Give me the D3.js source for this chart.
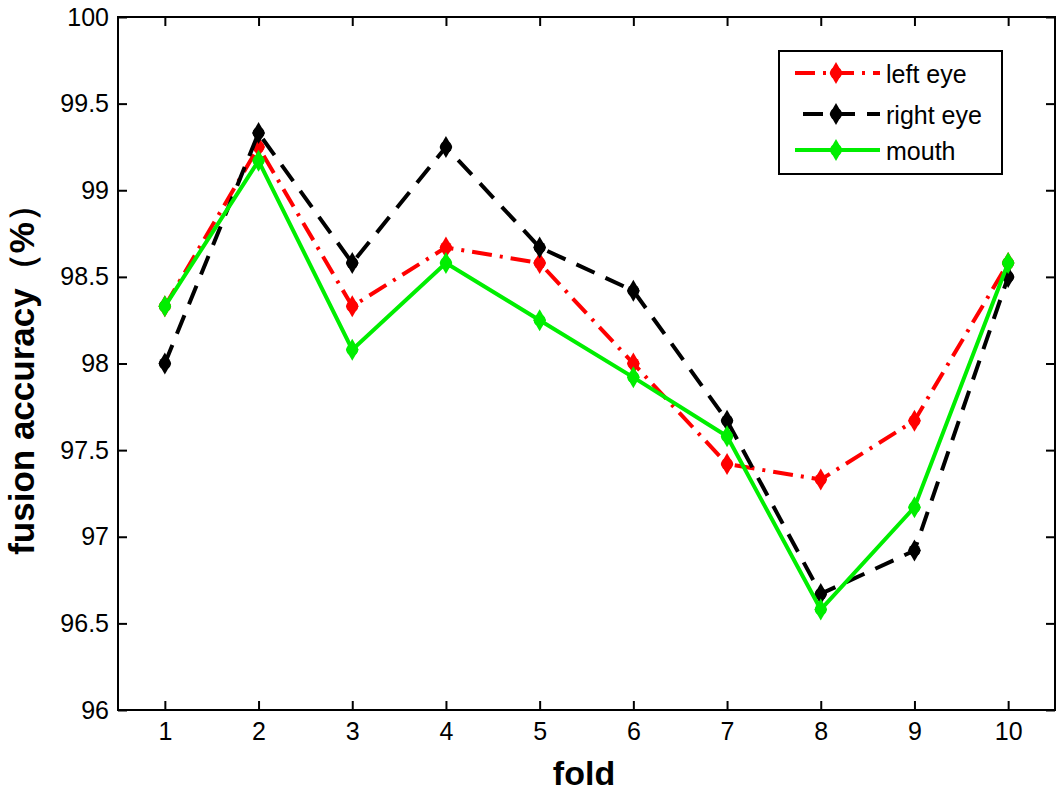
<!DOCTYPE html>
<html><head><meta charset="utf-8">
<script src="https://cdn.jsdelivr.net/npm/d3@7"></script>
<style>body{margin:0;background:#fff}svg{display:block}text{font-family:"Liberation Sans",Arial,sans-serif}</style>
</head><body><svg id="c" width="1063" height="794"></svg>
<script>
const folds = [1,2,3,4,5,6,7,8,9,10];
const leftEye  = [98.33,99.25,98.33,98.67,98.58,98.00,97.42,97.33,97.67,98.58];
const rightEye = [98.00,99.33,98.58,99.25,98.67,98.42,97.67,96.67,96.92,98.50];
const mouth    = [98.33,99.17,98.08,98.58,98.25,97.92,97.58,96.58,97.17,98.58];
const yTicks = [96,96.5,97,97.5,98,98.5,99,99.5,100];
const seriesNames = ["left eye","right eye","mouth"];

const svg = d3.select("#c");
const L=118,R=1055,T=17,B=710;
const x = d3.scaleLinear().domain([0.5,10.5]).range([L,R]);
const y = d3.scaleLinear().domain([96,100]).range([B,T]);

const series = [
  {name:seriesNames[0], vals:leftEye, color:"#ff0000", dash:"20,8,3,8"},
  {name:seriesNames[1], vals:rightEye, color:"#000000", dash:"20,12"},
  {name:seriesNames[2], vals:mouth, color:"#00ee00", dash:null}
];

// axes box
svg.append("rect").attr("x",L).attr("y",T).attr("width",R-L).attr("height",B-T)
  .attr("fill","none").attr("stroke","#000").attr("stroke-width",2);

const gx = svg.append("g").attr("transform",`translate(0,${B})`)
  .call(d3.axisBottom(x).tickValues(folds).tickSize(-9).tickPadding(12).tickFormat(d3.format("d")));
const gxt = svg.append("g").attr("transform",`translate(0,${T})`)
  .call(d3.axisTop(x).tickValues(folds).tickSize(-9).tickFormat(""));
const gy = svg.append("g").attr("transform",`translate(${L},0)`)
  .call(d3.axisLeft(y).tickValues(yTicks).tickSize(-9).tickPadding(9).tickFormat(d=>String(d)));
const gyr = svg.append("g").attr("transform",`translate(${R},0)`)
  .call(d3.axisRight(y).tickValues(yTicks).tickSize(-9).tickFormat(""));
[gx,gxt,gy,gyr].forEach(g=>{
  g.select(".domain").remove();
  g.selectAll(".tick line").attr("stroke","#000").attr("stroke-width",2);
  g.selectAll("text").attr("font-size",25).attr("fill","#000");
});

const line = d3.line().x((d,i)=>x(folds[i])).y(d=>y(d));
const sym = d3.symbol().type(d3.symbolDiamond).size(140);

series.forEach(s=>{
  svg.append("path").datum(s.vals).attr("d",line).attr("fill","none")
    .attr("stroke",s.color).attr("stroke-width",4)
    .attr("stroke-dasharray",s.dash);
  svg.append("g").selectAll("path").data(s.vals).join("path")
    .attr("transform",(d,i)=>`translate(${x(folds[i])},${y(d)})`)
    .attr("d",sym).attr("fill",s.color);
  svg.append("g").selectAll("circle").data(s.vals).join("circle")
    .attr("cx",(d,i)=>x(folds[i])).attr("cy",d=>y(d)).attr("r",6).attr("fill",s.color);
});

// legend
const lg = svg.append("g");
lg.append("rect").attr("x",779).attr("y",51).attr("width",223).attr("height",123)
  .attr("fill","#fff").attr("stroke","#000").attr("stroke-width",2);
const ly = [73,114,150];
const lx1 = [795,803,795];
series.forEach((s,i)=>{
  lg.append("line").attr("x1",lx1[i]).attr("x2",880).attr("y1",ly[i]).attr("y2",ly[i])
    .attr("stroke",s.color).attr("stroke-width",4).attr("stroke-dasharray",s.dash);
  lg.append("path").attr("transform",`translate(836,${ly[i]})`).attr("d",sym).attr("fill",s.color);
  lg.append("circle").attr("cx",836).attr("cy",ly[i]).attr("r",6).attr("fill",s.color);
  lg.append("text").attr("x",886).attr("y",ly[i]+10).attr("font-size",25).text(s.name);
});

// axis labels
svg.append("text").attr("x",584).attr("y",785).attr("text-anchor","middle")
  .attr("font-size",34).attr("font-weight","bold").text("fold");
svg.append("text").attr("transform",`translate(34,371) rotate(-90)`).attr("text-anchor","middle")
  .attr("font-size",35).attr("font-weight","bold").text("fusion accuracy（%）");
</script></body></html>
